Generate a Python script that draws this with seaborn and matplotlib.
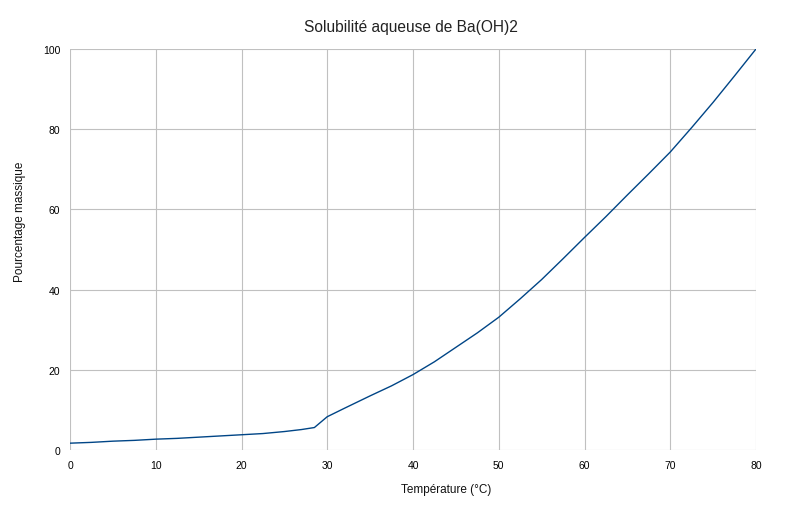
import matplotlib
matplotlib.use("Agg")
import matplotlib.pyplot as plt
import seaborn as sns
import pandas as pd

temperature = [0, 2.5, 5, 7.5, 10, 12.5, 15, 17.5, 20, 22.5, 25, 27, 28.5, 30, 32, 35, 37.5, 40, 42.5, 45,
               47.5, 50, 52.5, 55, 57.5, 60, 62.5, 65, 67.5, 70, 72.5, 75, 77.5, 80]
pourcentage = [1.7, 1.9, 2.2, 2.4, 2.7, 2.9, 3.2, 3.5, 3.8, 4.1, 4.6, 5.1, 5.6, 8.3, 10.4, 13.5, 16.0, 18.8, 22.0, 25.6,
               29.2, 33.1, 37.7, 42.5, 47.7, 53.0, 58.2, 63.6, 68.9, 74.3, 80.4, 86.7, 93.3, 100]

titre = "Solubilité aqueuse de Ba(OH)2"
xlabel = "Température (°C)"
ylabel = "Pourcentage massique"

df = pd.DataFrame({"T": temperature, "P": pourcentage})

sns.set_theme(style="white")
plt.rcParams['font.family'] = ['Liberation Sans', 'DejaVu Sans']

fig = plt.figure(figsize=(8, 5.1), dpi=100)
ax = fig.add_axes([0.0875, 0.1157, 0.8575, 0.7863])
sns.lineplot(data=df, x="T", y="P", ax=ax, color="#004586", linewidth=1.0)

ax.set_xlim(0, 80)
ax.set_ylim(0, 100)
ax.set_xticks(range(0, 81, 10))
ax.set_yticks(range(0, 101, 20))
ax.grid(True, color="#c0c0c0", linewidth=0.8)
for s in ax.spines.values():
    s.set_visible(False)
ax.tick_params(axis="both", direction="out", length=4, width=0.8, color="#c0c0c0",
               labelsize=7.5, labelcolor="#000000", pad=3)
ax.set_xlabel("")
ax.set_ylabel("")
fig.text(0.5575, 0.039, xlabel, fontsize=8.5, ha="center", va="center", color="#111111")
fig.text(0.025, 0.566, ylabel, fontsize=8.5, ha="center", va="center", rotation=90, color="#111111")
fig.text(0.514, 0.947, titre, fontsize=11.2, ha="center", va="center", color="#222222")

fig.savefig("out.png", dpi=100)
